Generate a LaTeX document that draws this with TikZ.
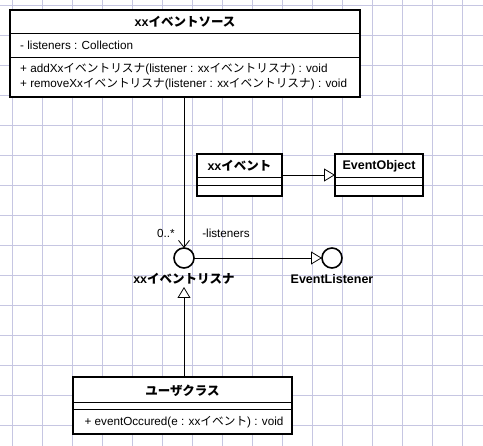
\documentclass[tikz,border=0pt]{standalone}
\usepackage{fontspec}
\setmainfont{Liberation Sans}
\newfontfamily\jp{Noto Sans CJK JP}
\usetikzlibrary{arrows.meta}
\definecolor{gridc}{RGB}{198,198,226}
\tikzset{
  classbox/.style={draw, line width=1.6pt, fill=white, inner sep=0pt, outer sep=0pt, anchor=north west},
  divider/.style={line width=0.8pt},
  ttl/.style={font=\fontsize{12.5}{14}\selectfont\bfseries, inner sep=0pt},
  txt/.style={font=\fontsize{11.7}{13}\selectfont, inner sep=0pt},
  txtl/.style={txt, anchor=west},
  iface/.style={draw, circle, line width=1.6pt, fill=white, minimum size=20pt, inner sep=0pt, outer sep=0pt},
  conn/.style={line width=0.8pt},
  gen/.style={conn, -{Triangle[open, length=11pt, width=13pt, fill=white]}},
  nav/.style={conn, -{Straight Barb[length=7pt, width=11pt]}},
}
\begin{document}
\begin{tikzpicture}[x=1pt,y=-1pt]
\useasboundingbox (0,0) rectangle (483,446);
\fill[white] (0,0) rectangle (483,446);
% grid
\foreach \gx in {12,42,...,482} \draw[gridc, line width=0.8pt] (\gx,0) -- (\gx,446);
\foreach \gy in {5,35,...,445} \draw[gridc, line width=0.8pt] (0,\gy) -- (483,\gy);

% event source class
\node[classbox, minimum width=350pt, minimum height=87pt] (src) at (10,10) {};
\draw[divider] (10,33) -- (360,33);
\draw[divider] (10,57) -- (360,57);
\node[ttl] (srcT) at (185,22) {xx{\jp イベントソース}};
\node[txtl] (srcA) at (20,45) {- listeners : Collection};
\node[txtl] (srcM1) at (20,69) {+ addXx{\jp イベントリスナ}(listener : xx{\jp イベントリスナ}) : void};
\node[txtl] (srcM2) at (20,84) {+ removeXx{\jp イベントリスナ}(listener : xx{\jp イベントリスナ}) : void};

% event class
\node[classbox, minimum width=85pt, minimum height=42pt] (ev) at (197,154) {};
\draw[divider] (197,177.5) -- (282,177.5);
\draw[divider] (197,185.5) -- (282,185.5);
\node[ttl] (evT) at (239.5,166) {xx{\jp イベント}};

% EventObject
\node[classbox, minimum width=88pt, minimum height=42pt] (eo) at (335,154) {};
\draw[divider] (335,177.5) -- (423,177.5);
\draw[divider] (335,185.5) -- (423,185.5);
\node[ttl] (eoT) at (379,166) {EventObject};

% interfaces
\node[iface] (lis) at (184,258) {};
\node[ttl] (lisT) at (184,279) {xx{\jp イベントリスナ}};
\node[iface] (el) at (332,258) {};
\node[ttl] (elT) at (332,279) {EventListener};

% user class
\node[classbox, minimum width=219pt, minimum height=57pt] (usr) at (73,377) {};
\draw[divider] (73,402) -- (292,402);
\draw[divider] (73,409) -- (292,409);
\node[ttl] (usrT) at (182.5,391) {{\jp ユーザクラス}};
\node[txt] (usrM) at (184,422) {+ eventOccured(e : xx{\jp イベント}) : void};

% connectors
\draw[nav] (lis |- src.south) -- (lis.north);
\node[txt] (mult) at (166,233) {0..*};
\node[txt] (role) at (226,233) {-listeners};
\draw[gen] (ev.east |- 0,175) -- (eo.west |- 0,175);
\draw[gen] (lis.east) -- (el.west);
\coordinate (realtip) at (184,287);
\draw[gen] (usr.north -| realtip) -- (realtip);
\end{tikzpicture}
\end{document}
